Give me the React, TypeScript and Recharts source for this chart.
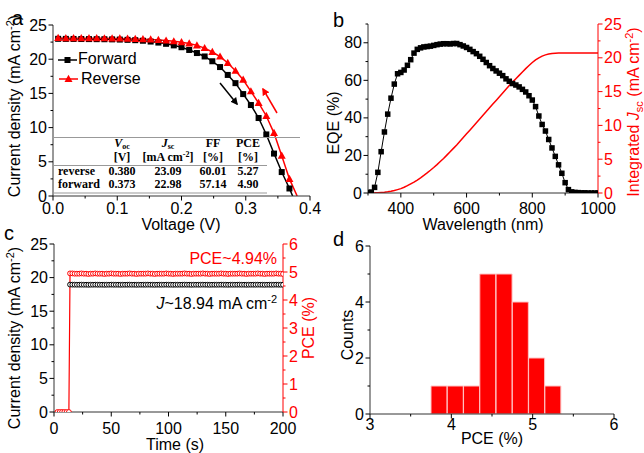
import React from 'react';
import { LineChart, ComposedChart, Line, Bar, XAxis, YAxis } from 'recharts';

const FONT = '"Liberation Sans", Arial, sans-serif';
const SERIF = '"Liberation Serif", "Times New Roman", serif';
const RED = '#ff0000';
const FRAME = '#333';

// ---- (a) J-V curves ----
const jvVoltage = [
  0.008, 0.02, 0.032, 0.044, 0.056, 0.068, 0.08, 0.092, 0.104, 0.116, 0.128,
  0.14, 0.152, 0.164, 0.176, 0.188, 0.2, 0.212, 0.224, 0.236, 0.248, 0.26,
  0.272, 0.284, 0.296, 0.308, 0.32, 0.332, 0.344, 0.356, 0.368,
];
const jvForward = [
  22.98, 22.97, 22.96, 22.95, 22.94, 22.93, 22.92, 22.9, 22.87, 22.83, 22.78,
  22.7, 22.58, 22.43, 22.25, 22.02, 21.75, 21.35, 20.9, 20.4, 19.7, 18.85,
  17.7, 16.5, 14.9, 13.3, 11.4, 9.0, 6.2, 3.5, 1.1,
];
const jvReverse = [
  23.09, 23.08, 23.08, 23.07, 23.07, 23.06, 23.05, 23.04, 23.02, 23.0, 22.97,
  22.93, 22.88, 22.81, 22.72, 22.61, 22.48, 22.3, 22.02, 21.62, 21.05, 20.38,
  19.45, 18.3, 17.0, 15.3, 13.6, 11.7, 9.2, 5.9, 2.5,
];
const vocForward = 0.373;
const vocReverse = 0.38;
const jvXTicks = [0, 0.05, 0.1, 0.15, 0.2, 0.25, 0.3, 0.35, 0.4];
const jvXMajor = [0, 0.1, 0.2, 0.3, 0.4];
const jvYTicks = [0, 2.5, 5, 7.5, 10, 12.5, 15, 17.5, 20, 22.5, 25];
const jvYMajor = [0, 5, 10, 15, 20, 25];

const tableRows = [
  ['reverse', '0.380', '23.09', '60.01', '5.27'],
  ['forward', '0.373', '22.98', '57.14', '4.90'],
];

// ---- (b) EQE + integrated Jsc ----
const eqeWavelength = [
  300, 310, 320, 330, 340, 350, 360, 370, 380, 390, 400, 410, 420, 430, 440,
  450, 460, 470, 480, 490, 500, 510, 520, 530, 540, 550, 560, 570, 580, 590,
  600, 610, 620, 630, 640, 650, 660, 670, 680, 690, 700, 710, 720, 730, 740,
  750, 760, 770, 780, 790, 800, 810, 820, 830, 840, 850, 860, 870, 880, 890,
  900, 910, 920, 930, 940, 950, 960, 970, 980, 990, 1000,
];
const eqeValues = [
  0.2, 0.5, 3.0, 11.0, 22.0, 32.5, 42.0, 50.5, 58.0, 63.5, 64.2, 65.5, 68.0,
  71.0, 74.5, 76.5, 77.3, 77.8, 78.0, 78.2, 78.6, 79.0, 79.3, 79.5, 79.5, 79.4,
  79.6, 79.6, 79.0, 78.3, 77.5, 76.5, 75.3, 74.2, 72.8, 71.2, 69.5, 67.8, 66.3,
  65.0, 63.8, 62.5, 60.8, 59.5, 58.3, 57.5, 56.5, 55.2, 53.8, 51.8, 49.5, 46.0,
  41.0, 36.5, 33.0, 28.5, 24.0, 19.5, 15.0, 10.5, 5.5, 1.8, 0.6, 0.3, 0.2, 0.1,
  0.1, 0, 0, 0, 0,
];
const jscIntegrated = [
  0, 0.01, 0.02, 0.05, 0.08, 0.12, 0.18, 0.26, 0.36, 0.5, 0.65, 0.85, 1.08,
  1.35, 1.62, 1.92, 2.25, 2.6, 2.97, 3.36, 3.77, 4.2, 4.65, 5.1, 5.6, 6.1, 6.6,
  7.1, 7.65, 8.2, 8.75, 9.3, 9.85, 10.4, 10.95, 11.5, 12.05, 12.6, 13.15, 13.7,
  14.25, 14.8, 15.35, 15.9, 16.4, 16.9, 17.4, 17.9, 18.4, 18.85, 19.3, 19.7,
  20.0, 20.25, 20.43, 20.55, 20.63, 20.67, 20.7, 20.7, 20.7, 20.7, 20.7, 20.7,
  20.7, 20.7, 20.7, 20.7, 20.7, 20.7, 20.7,
];
const eqeXTicks = [300, 400, 500, 600, 700, 800, 900, 1000];
const eqeXMajor = [400, 600, 800, 1000];
const eqeYTicks = [0, 10, 20, 30, 40, 50, 60, 70, 80, 90];
const eqeYMajor = [0, 20, 40, 60, 80];
const jscYTicks = [0, 2.5, 5, 7.5, 10, 12.5, 15, 17.5, 20, 22.5, 25];
const jscYMajor = [0, 5, 10, 15, 20, 25];

// ---- (c) stabilized output ----
const offTime = [3, 5, 7, 9, 11, 13];
const offPce = [0, 0, 0, 0, 0, 0];
const onTime = [
  14, 16, 18, 20, 22, 24, 26, 28, 30, 32, 34, 36, 38, 40, 42, 44, 46, 48, 50,
  52, 54, 56, 58, 60, 62, 64, 66, 68, 70, 72, 74, 76, 78, 80, 82, 84, 86, 88,
  90, 92, 94, 96, 98, 100, 102, 104, 106, 108, 110, 112, 114, 116, 118, 120,
  122, 124, 126, 128, 130, 132, 134, 136, 138, 140, 142, 144, 146, 148, 150,
  152, 154, 156, 158, 160, 162, 164, 166, 168, 170, 172, 174, 176, 178, 180,
  182, 184, 186, 188, 190, 192, 194, 196, 198, 200,
];
const onCurrent = [
  18.96, 18.95, 18.95, 18.94, 18.94, 18.95, 18.94, 18.94, 18.93, 18.94, 18.94,
  18.95, 18.94, 18.94, 18.94, 18.93, 18.94, 18.94, 18.95, 18.94, 18.94, 18.94,
  18.93, 18.94, 18.94, 18.94, 18.95, 18.94, 18.94, 18.93, 18.94, 18.94, 18.94,
  18.94, 18.95, 18.94, 18.94, 18.93, 18.94, 18.94, 18.94, 18.94, 18.95, 18.94,
  18.94, 18.93, 18.94, 18.94, 18.94, 18.94, 18.95, 18.94, 18.94, 18.93, 18.94,
  18.94, 18.94, 18.94, 18.95, 18.94, 18.94, 18.93, 18.94, 18.94, 18.94, 18.94,
  18.95, 18.94, 18.94, 18.93, 18.94, 18.94, 18.94, 18.94, 18.95, 18.94, 18.94,
  18.93, 18.94, 18.94, 18.94, 18.94, 18.95, 18.94, 18.94, 18.93, 18.94, 18.94,
  18.94, 18.94, 18.95, 18.94, 18.94, 18.93,
];
const onPce = [
  4.95, 4.95, 4.94, 4.94, 4.94, 4.95, 4.94, 4.94, 4.93, 4.94, 4.94, 4.95, 4.94,
  4.94, 4.94, 4.93, 4.94, 4.94, 4.95, 4.94, 4.94, 4.94, 4.93, 4.94, 4.94, 4.94,
  4.95, 4.94, 4.94, 4.93, 4.94, 4.94, 4.94, 4.94, 4.95, 4.94, 4.94, 4.93, 4.94,
  4.94, 4.94, 4.94, 4.95, 4.94, 4.94, 4.93, 4.94, 4.94, 4.94, 4.94, 4.95, 4.94,
  4.94, 4.93, 4.94, 4.94, 4.94, 4.94, 4.95, 4.94, 4.94, 4.93, 4.94, 4.94, 4.94,
  4.94, 4.95, 4.94, 4.94, 4.93, 4.94, 4.94, 4.94, 4.94, 4.95, 4.94, 4.94, 4.93,
  4.94, 4.94, 4.94, 4.94, 4.95, 4.94, 4.94, 4.93, 4.94, 4.94, 4.94, 4.94, 4.95,
  4.94, 4.94, 4.93,
];
const cXTicks = [0, 25, 50, 75, 100, 125, 150, 175, 200];
const cXMajor = [0, 50, 100, 150, 200];
const cYTicks = [0, 2.5, 5, 7.5, 10, 12.5, 15, 17.5, 20, 22.5, 25];
const cYMajor = [0, 5, 10, 15, 20, 25];
const cPceTicks = [0, 0.5, 1, 1.5, 2, 2.5, 3, 3.5, 4, 4.5, 5, 5.5, 6];
const cPceMajor = [0, 1, 2, 3, 4, 5, 6];

// ---- (d) PCE histogram ----
const histCenters = [3.85, 4.05, 4.25, 4.45, 4.65, 4.85, 5.05, 5.25];
const histCounts = [1, 1, 1, 5, 5, 4, 2, 1];
const dXTicks = [3, 3.5, 4, 4.5, 5, 5.5, 6];
const dXMajor = [3, 4, 5, 6];
const dYTicks = [0, 1, 2, 3, 4, 5, 6];
const dYMajor = [0, 2, 4, 6];

// ---- per-series rows ----
const forwardData = jvVoltage
  .map((v, i) => ({ v, j: jvForward[i] }))
  .concat([{ v: vocForward, j: 0, end: true } as any]);
const reverseData = jvVoltage
  .map((v, i) => ({ v, j: jvReverse[i] }))
  .concat([{ v: vocReverse, j: 0, end: true } as any]);
const eqeData = eqeWavelength.map((w, i) => ({ w, eqe: eqeValues[i] }));
const jscData = eqeWavelength.map((w, i) => ({ w, jsc: jscIntegrated[i] }));
const currentData = onTime.map((t, i) => ({ t, j: onCurrent[i] }));
const pceData = offTime
  .map((t, i) => ({ t, p: offPce[i] }))
  .concat(onTime.map((t, i) => ({ t, p: onPce[i] })));
const histData = histCenters.map((x, i) => ({ x, n: histCounts[i] }));

// ticks with major/minor marks drawn outward
const makeTick =
  (side: 'bottom' | 'left' | 'right', major: number[], gap = 18, color = '#000', fmt = (v: number) => String(v)) =>
  (p: any) => {
    const v = p.payload.value;
    const isMajor = major.some((m) => Math.abs(m - v) < 1e-9);
    const len = isMajor ? 4.5 : 2.5;
    const txt = { fontSize: 16, fontFamily: FONT, fill: color } as const;
    if (side === 'bottom') {
      return (
        <g>
          <line x1={p.x} x2={p.x} y1={p.y} y2={p.y + len} stroke={color} />
          {isMajor && (
            <text x={p.x} y={p.y + gap} textAnchor="middle" {...txt}>
              {fmt(v)}
            </text>
          )}
        </g>
      );
    }
    const dir = side === 'left' ? -1 : 1;
    return (
      <g>
        <line x1={p.x} x2={p.x + dir * len} y1={p.y} y2={p.y} stroke={color} />
        {isMajor && (
          <text x={p.x + dir * 6} y={p.y} dy="0.35em" textAnchor={side === 'left' ? 'end' : 'start'} {...txt}>
            {fmt(v)}
          </text>
        )}
      </g>
    );
  };

const squareDot = (size: number) => (p: any) => {
  if (p.payload && p.payload.end) return <g key={`s${p.index}`} />;
  return <rect key={`s${p.index}`} x={p.cx - size / 2} y={p.cy - size / 2} width={size} height={size} fill="#000" />;
};
const triangleDot = (p: any) => {
  if (p.payload && p.payload.end) return <g key={`t${p.index}`} />;
  return (
    <polygon
      key={`t${p.index}`}
      points={`${p.cx},${p.cy - 4.2} ${p.cx - 4},${p.cy + 3} ${p.cx + 4},${p.cy + 3}`}
      fill={RED}
    />
  );
};
const circleDot = (color: string) => (p: any) =>
  <circle key={`c${p.index}`} cx={p.cx} cy={p.cy} r={2.4} fill="#fff" stroke={color} strokeWidth={1} />;

const axisCommon = { tickSize: 0, tickMargin: 0, tickLine: false, interval: 0 as const, allowDataOverflow: true };

const frameAxes = (withRight: boolean) => [
  <XAxis key="ft" xAxisId="top" orientation="top" type="number" domain={[0, 1]} height={0} tick={false} tickLine={false} stroke={FRAME} />,
  withRight ? (
    <YAxis key="fr" yAxisId="frame" orientation="right" type="number" domain={[0, 1]} width={0} tick={false} tickLine={false} stroke={FRAME} />
  ) : null,
];

const PanelA = () => (
  <LineChart width={322} height={226} margin={{ top: 25, right: 12, bottom: 0, left: 0 }}>
    <XAxis
      type="number" dataKey="v" domain={[0, 0.4]} ticks={jvXTicks} height={30} stroke={FRAME}
      tick={makeTick('bottom', jvXMajor, 18, '#000', (v) => v.toFixed(1))} {...axisCommon}
    />
    <YAxis type="number" domain={[0, 25]} ticks={jvYTicks} width={53} stroke={FRAME} tick={makeTick('left', jvYMajor)} {...axisCommon} />
    {frameAxes(true)}
    <Line data={forwardData} dataKey="j" stroke="#000" strokeWidth={1.5} dot={squareDot(6)} isAnimationActive={false} />
    <Line data={reverseData} dataKey="j" stroke={RED} strokeWidth={1.5} dot={triangleDot} isAnimationActive={false} />
  </LineChart>
);

const PanelB = () => (
  <ComposedChart width={322} height={226} margin={{ top: 24, right: 0, bottom: 0, left: 0 }}>
    <XAxis
      type="number" dataKey="w" domain={[300, 1000]} ticks={eqeXTicks} height={33} stroke={FRAME}
      tick={makeTick('bottom', eqeXMajor, 21)} {...axisCommon}
    />
    <YAxis yAxisId="l" type="number" domain={[0, 90]} ticks={eqeYTicks} width={46} stroke={FRAME} tick={makeTick('left', eqeYMajor)} {...axisCommon} />
    <YAxis
      yAxisId="r" orientation="right" type="number" domain={[0, 25]} ticks={jscYTicks} width={46} stroke={RED}
      tick={makeTick('right', jscYMajor, 18, RED)} {...axisCommon}
    />
    {frameAxes(false)}
    <Line yAxisId="l" data={eqeData} dataKey="eqe" stroke="#000" strokeWidth={1} dot={squareDot(5.5)} isAnimationActive={false} />
    <Line yAxisId="r" data={jscData} dataKey="jsc" stroke={RED} strokeWidth={1.5} dot={false} isAnimationActive={false} />
  </ComposedChart>
);

const PanelC = () => (
  <ComposedChart width={322} height={227} margin={{ top: 18, right: 0, bottom: 0, left: 0 }}>
    <XAxis
      type="number" dataKey="t" domain={[0, 200]} ticks={cXTicks} height={41} stroke={FRAME}
      tick={makeTick('bottom', cXMajor, 22)} {...axisCommon}
    />
    <YAxis yAxisId="l" type="number" domain={[0, 25]} ticks={cYTicks} width={54} stroke={FRAME} tick={makeTick('left', cYMajor)} {...axisCommon} />
    <YAxis
      yAxisId="r" orientation="right" type="number" domain={[0, 6]} ticks={cPceTicks} width={39} stroke={RED}
      tick={makeTick('right', cPceMajor, 18, RED)} {...axisCommon}
    />
    {frameAxes(false)}
    <Line yAxisId="l" data={currentData} dataKey="j" stroke="#000" strokeWidth={1} dot={circleDot('#000')} isAnimationActive={false} />
    <Line yAxisId="r" data={pceData} dataKey="p" stroke={RED} strokeWidth={1.2} dot={circleDot(RED)} isAnimationActive={false} />
  </ComposedChart>
);

const PanelD = () => (
  <ComposedChart width={322} height={227} data={histData} margin={{ top: 20, right: 30, bottom: 0, left: 0 }}>
    <XAxis
      type="number" dataKey="x" domain={[3, 6]} ticks={dXTicks} height={39} stroke={FRAME}
      tick={makeTick('bottom', dXMajor, 16)} {...axisCommon}
    />
    <YAxis type="number" domain={[0, 6]} ticks={dYTicks} width={48} stroke={FRAME} tick={makeTick('left', dYMajor)} {...axisCommon} />
    {frameAxes(true)}
    <Bar dataKey="n" barSize={16} fill={RED} stroke="#ffc4c4" strokeWidth={1} isAnimationActive={false} />
  </ComposedChart>
);

const T = { fontFamily: FONT, fontSize: 16, fill: '#000' } as const;
const TB = { fontFamily: SERIF, fontSize: 12, fontWeight: 'bold', fill: '#000' } as const;
const tableCols = [122, 168, 213, 248];

const Overlay = () => (
  <svg width={644} height={453} style={{ position: 'absolute', left: 0, top: 0, pointerEvents: 'none' }}>
    <defs>
      <marker id="hk" viewBox="0 0 10 10" refX="8" refY="5" markerWidth="5" markerHeight="5" orient="auto">
        <path d="M0,0 L10,5 L0,10 z" fill="#000" />
      </marker>
      <marker id="hr" viewBox="0 0 10 10" refX="8" refY="5" markerWidth="5" markerHeight="5" orient="auto">
        <path d="M0,0 L10,5 L0,10 z" fill={RED} />
      </marker>
    </defs>
    {/* panel letters */}
    <text x={12} y={25} fontFamily={FONT} fontSize={20}>a</text>
    <text x={333} y={27} fontFamily={FONT} fontSize={20}>b</text>
    <text x={4} y={240} fontFamily={FONT} fontSize={20}>c</text>
    <text x={333} y={246} fontFamily={FONT} fontSize={20}>d</text>

    {/* (a) titles */}
    <text transform="translate(20,106) rotate(-90)" textAnchor="middle" {...T}>
      Current density (mA cm<tspan dy={-6} fontSize={11}>-2</tspan>
      <tspan dy={6}>)</tspan>
    </text>
    <text x={181} y={230} textAnchor="middle" {...T}>Voltage (V)</text>
    {/* (a) legend */}
    <line x1={58} x2={77} y1={60} y2={60} stroke="#000" strokeWidth={1.5} />
    <rect x={64.5} y={57} width={6} height={6} fill="#000" />
    <text x={78} y={64} {...T}>Forward</text>
    <line x1={59} x2={78} y1={79} y2={79} stroke={RED} strokeWidth={1.5} />
    <polygon points="68.5,74.8 64.5,82 72.5,82" fill={RED} />
    <text x={81} y={84} {...T}>Reverse</text>
    {/* (a) scan arrows */}
    <line x1={220} y1={83} x2={237} y2={104} stroke="#000" strokeWidth={1.5} markerEnd="url(#hk)" />
    <line x1={277} y1={113} x2={263} y2={89} stroke={RED} strokeWidth={1.5} markerEnd="url(#hr)" />
    {/* (a) table */}
    <line x1={53} x2={300} y1={137.5} y2={137.5} stroke="#999" strokeWidth={1} />
    <line x1={53} x2={267} y1={165.5} y2={165.5} stroke="#999" strokeWidth={1} />
    <line x1={53} x2={267} y1={193} y2={193} stroke="#999" strokeWidth={1} />
    <text x={tableCols[0]} y={147} textAnchor="middle" {...TB}>
      <tspan fontStyle="italic">V</tspan>
      <tspan dy={2} fontSize={8}>oc</tspan>
    </text>
    <text x={tableCols[1]} y={147} textAnchor="middle" {...TB}>
      <tspan fontStyle="italic">J</tspan>
      <tspan dy={2} fontSize={8}>sc</tspan>
    </text>
    <text x={tableCols[2]} y={147} textAnchor="middle" {...TB}>FF</text>
    <text x={tableCols[3]} y={147} textAnchor="middle" {...TB}>PCE</text>
    <text x={tableCols[0]} y={161} textAnchor="middle" {...TB}>[V]</text>
    <text x={tableCols[1]} y={161} textAnchor="middle" {...TB}>
      [mA cm<tspan dy={-4} fontSize={8}>-2</tspan>
      <tspan dy={4}>]</tspan>
    </text>
    <text x={tableCols[2]} y={161} textAnchor="middle" {...TB}>[%]</text>
    <text x={tableCols[3]} y={161} textAnchor="middle" {...TB}>[%]</text>
    {tableRows.map((row, r) => (
      <g key={row[0]}>
        <text x={58} y={175 + r * 13} {...TB}>{row[0]}</text>
        {row.slice(1).map((cell, c) => (
          <text key={c} x={tableCols[c]} y={175 + r * 13} textAnchor="middle" {...TB}>{cell}</text>
        ))}
      </g>
    ))}

    {/* (b) titles */}
    <text transform="translate(339,123) rotate(-90)" textAnchor="middle" {...T}>EQE (%)</text>
    <text x={483} y={230} textAnchor="middle" {...T}>Wavelength (nm)</text>
    <text transform="translate(639,112) rotate(-90)" textAnchor="middle" {...T} fill={RED}>
      Integrated <tspan fontStyle="italic">J</tspan>
      <tspan dy={4} fontSize={11}>sc</tspan>
      <tspan dy={-4}> (mA cm</tspan>
      <tspan dy={-6} fontSize={11}>-2</tspan>
      <tspan dy={6}>)</tspan>
    </text>

    {/* (c) titles and notes */}
    <text transform="translate(20,338) rotate(-90)" textAnchor="middle" {...T}>
      Current density (mA cm<tspan dy={-6} fontSize={11}>-2</tspan>
      <tspan dy={6}>)</tspan>
    </text>
    <text x={175} y={450} textAnchor="middle" {...T}>Time (s)</text>
    <text transform="translate(314,328) rotate(-90)" textAnchor="middle" {...T} fill={RED}>PCE (%)</text>
    <text x={277} y={264} textAnchor="end" {...T} fill={RED}>PCE~4.94%</text>
    <text x={277} y={309} textAnchor="end" {...T}>
      <tspan fontStyle="italic">J</tspan>~18.94 mA cm
      <tspan dy={-6} fontSize={11}>-2</tspan>
    </text>

    {/* (d) titles */}
    <text transform="translate(353,335) rotate(-90)" textAnchor="middle" {...T}>Counts</text>
    <text x={492} y={444} textAnchor="middle" {...T}>PCE (%)</text>
  </svg>
);

export default function App() {
  return (
    <div style={{ position: 'absolute', left: 0, top: 0, width: 644, height: 453, background: '#fff', fontFamily: FONT }}>
      <div style={{ position: 'absolute', left: 0, top: 0 }}><PanelA /></div>
      <div style={{ position: 'absolute', left: 322, top: 0 }}><PanelB /></div>
      <div style={{ position: 'absolute', left: 0, top: 226 }}><PanelC /></div>
      <div style={{ position: 'absolute', left: 322, top: 226 }}><PanelD /></div>
      <Overlay />
    </div>
  );
}
